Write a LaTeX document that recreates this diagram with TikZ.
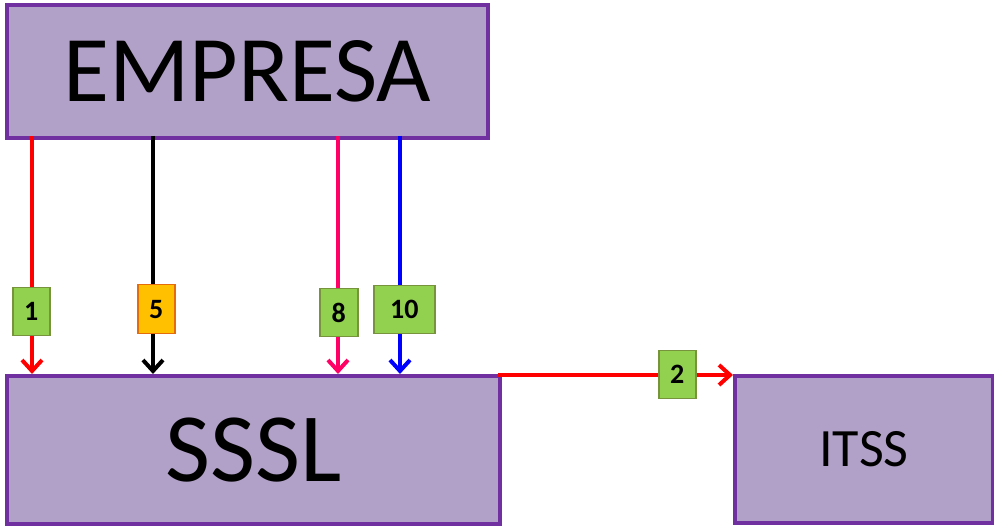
\documentclass[tikz,border=0pt]{standalone}
\usepackage{fontspec}
\setmainfont{Carlito}
\usetikzlibrary{arrows.meta}
\definecolor{boxfill}{HTML}{B1A0C7}
\definecolor{boxline}{HTML}{7030A0}
\definecolor{lgreen}{HTML}{92D050}
\definecolor{dgreen}{HTML}{77933C}
\definecolor{lorange}{HTML}{FFC000}
\definecolor{dorange}{HTML}{E46C0A}
\definecolor{pinkline}{HTML}{FF0066}
\begin{document}
\begin{tikzpicture}[x=1pt,y=-1pt,
  bigbox/.style={draw=boxline,fill=boxfill,line width=4pt,inner sep=0pt,anchor=north west},
  tag/.style={draw=dgreen,fill=lgreen,line width=1.5pt,inner sep=0pt,anchor=north west,font=\bfseries\fontsize{28}{28}\selectfont},
  flow/.style={line width=4pt,-{Straight Barb[length=11pt,width=20pt,line width=4pt]}}]
\useasboundingbox (0,0) rectangle (994,526);
\node[bigbox,minimum width=481pt,minimum height=133pt] (emp) at (5,3) {\fontsize{94}{94}\selectfont EMPRESA};
\node[bigbox,minimum width=493pt,minimum height=148pt] (sssl) at (5,374) {\fontsize{98}{98}\selectfont SSSL};
\node[bigbox,minimum width=258pt,minimum height=147pt] (itss) at (733,374) {\fontsize{54}{54}\selectfont ITSS};
\coordinate (a1) at (32,136); \coordinate (b1) at (32,374);
\coordinate (a5) at (153,136); \coordinate (b5) at (153,374);
\coordinate (a8) at (338,136); \coordinate (b8) at (338,374);
\coordinate (a10) at (400,136); \coordinate (b10) at (400,374);
\coordinate (a2) at (498,375); \coordinate (b2) at (733,375);
\draw[flow,red] (a1) -- (b1);
\draw[flow,black] (a5) -- (b5);
\draw[flow,pinkline] (a8) -- (b8);
\draw[flow,blue] (a10) -- (b10);
\draw[flow,red] (a2) -- (b2);
\node[tag,minimum width=37pt,minimum height=48pt] (t1) at (12,287) {1};
\node[tag,draw=dorange,fill=lorange,minimum width=37pt,minimum height=49pt] (t5) at (137,284) {5};
\node[tag,minimum width=38pt,minimum height=48pt] (t8) at (319,288) {8};
\node[tag,minimum width=61pt,minimum height=48pt] (t10) at (373,285) {10};
\node[tag,minimum width=37pt,minimum height=48pt] (t2) at (658,350) {2};
\end{tikzpicture}
\end{document}
